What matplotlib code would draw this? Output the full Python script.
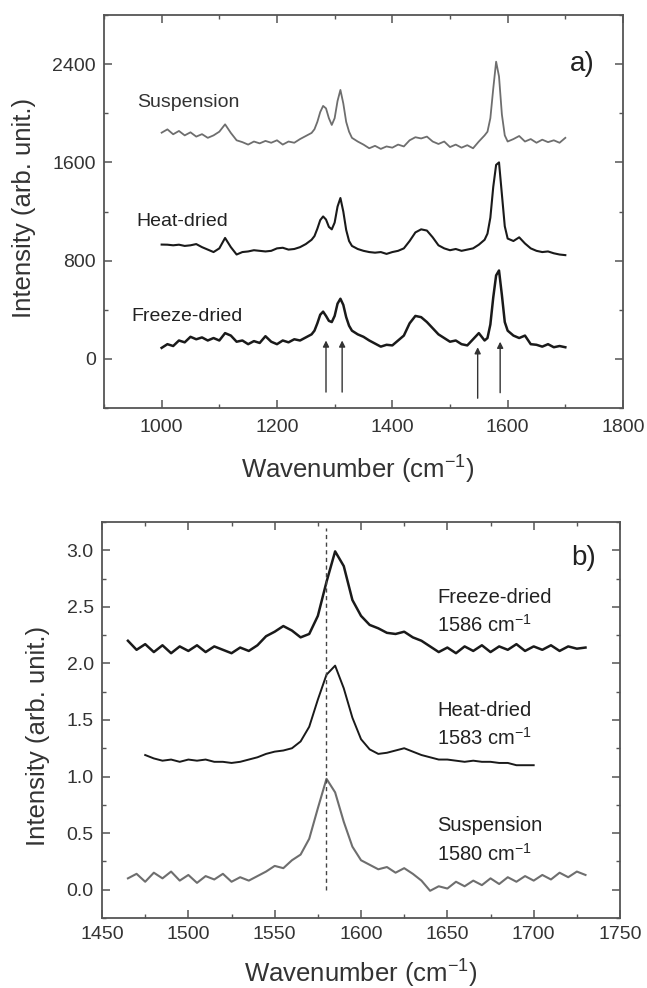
import numpy as np
import matplotlib
matplotlib.use("Agg")
import matplotlib.pyplot as plt
from matplotlib.ticker import MultipleLocator

plt.rcParams['font.family'] = ['Liberation Sans', 'DejaVu Sans']
plt.rcParams['mathtext.fontset'] = 'custom'
plt.rcParams['mathtext.rm'] = 'Liberation Sans'

# ---- panel a data (wavenumber, cm-1) ----
wn_a = [1000, 1010, 1020, 1030, 1040, 1050, 1060, 1070, 1080, 1090,
        1100, 1110, 1120, 1130, 1140, 1150, 1160, 1170, 1180, 1190,
        1200, 1210, 1220, 1230, 1240, 1250, 1260,
        1265, 1270, 1275, 1280, 1285, 1290, 1295, 1300, 1305, 1310,
        1315, 1320, 1325, 1330,
        1340, 1350, 1360, 1370, 1380, 1390, 1400, 1410, 1420, 1430,
        1440, 1450, 1460, 1470, 1480, 1490, 1500, 1510, 1520, 1530,
        1540, 1550, 1560,
        1565, 1570, 1575, 1580, 1585, 1590, 1595, 1600,
        1610, 1620, 1630, 1640, 1650, 1660, 1670, 1680, 1690, 1700]

susp_a = [1842, 1869, 1829, 1856, 1820, 1845, 1810, 1830, 1800, 1820,
          1850, 1910, 1840, 1780, 1765, 1745, 1770, 1755, 1775, 1760,
          1780, 1745, 1770, 1760, 1790, 1815, 1840,
          1870, 1930, 2010, 2060, 2040, 1960, 1905, 1960, 2100, 2190,
          2080, 1930, 1850, 1800,
          1770, 1745, 1715, 1735, 1710, 1730, 1720, 1745, 1730, 1780,
          1805, 1795, 1810, 1770, 1750, 1770, 1725, 1745, 1720, 1740,
          1715, 1770, 1820,
          1850, 1960, 2200, 2420, 2300, 1990, 1820, 1770,
          1790, 1815, 1770, 1790, 1760, 1785, 1765, 1780, 1760, 1800]

heat_a = [931, 930, 925, 930, 920, 925, 935, 910, 890, 870,
          900, 985, 910, 850, 870, 875, 885, 880, 875, 880,
          900, 905, 890, 895, 910, 935, 970,
          1000, 1060, 1130, 1160, 1135, 1075, 1055, 1110, 1240, 1310,
          1200, 1050, 960, 920,
          895, 880, 870, 865, 870, 855, 870, 880, 900, 960,
          1030, 1055, 1045, 990, 925, 900, 885, 895, 880, 890,
          900, 930, 970,
          1020, 1150, 1400, 1580, 1600, 1340, 1080, 980,
          960, 990, 940, 900, 880, 870, 875, 860, 850, 845]

freeze_a = [90, 120, 105, 150, 135, 180, 160, 175, 150, 170,
            150, 210, 190, 140, 150, 120, 145, 130, 185, 140,
            120, 150, 135, 160, 150, 175, 200,
            230, 290, 360, 385, 350, 310, 300, 350, 450, 490,
            440, 340, 270, 230,
            200, 180, 150, 125, 100, 115, 110, 150, 190, 290,
            350, 340, 300, 250, 200, 170, 140, 150, 120, 110,
            160, 210, 150,
            170, 280, 500, 680, 720, 520, 300, 230,
            190, 170, 190, 120, 115, 100, 120, 95, 105, 95]

arrow_x = [1285, 1313, 1548, 1587]
arrow_tail = [-270, -270, -320, -275]
arrow_head = [150, 150, 95, 140]

# ---- panel b data ----
wn_b = [1465, 1470, 1475, 1480, 1485, 1490, 1495, 1500, 1505, 1510,
        1515, 1520, 1525, 1530, 1535, 1540, 1545, 1550, 1555, 1560,
        1565, 1570, 1575, 1580, 1585, 1590, 1595, 1600, 1605, 1610,
        1615, 1620, 1625, 1630, 1635, 1640, 1645, 1650, 1655, 1660,
        1665, 1670, 1675, 1680, 1685, 1690, 1695, 1700, 1705, 1710,
        1715, 1720, 1725, 1730]

susp_b = [0.10, 0.14, 0.07, 0.15, 0.10, 0.16, 0.08, 0.13, 0.06, 0.12,
          0.09, 0.14, 0.07, 0.11, 0.08, 0.12, 0.16, 0.21, 0.19, 0.26,
          0.31, 0.45, 0.72, 0.98, 0.86, 0.60, 0.38, 0.26, 0.22, 0.18,
          0.20, 0.15, 0.19, 0.14, 0.08, -0.01, 0.03, 0.01, 0.07, 0.03,
          0.08, 0.04, 0.10, 0.05, 0.11, 0.07, 0.12, 0.08, 0.13, 0.09,
          0.15, 0.11, 0.16, 0.13]

freeze_b = [2.20, 2.12, 2.17, 2.10, 2.16, 2.09, 2.15, 2.11, 2.16, 2.10,
            2.15, 2.12, 2.09, 2.14, 2.11, 2.16, 2.24, 2.28, 2.33, 2.29,
            2.23, 2.26, 2.42, 2.72, 2.99, 2.86, 2.56, 2.42, 2.34, 2.31,
            2.27, 2.26, 2.28, 2.23, 2.20, 2.15, 2.10, 2.14, 2.09, 2.15,
            2.11, 2.16, 2.10, 2.15, 2.12, 2.17, 2.11, 2.15, 2.12, 2.16,
            2.11, 2.15, 2.13, 2.14]

wn_b_heat = [1475, 1480, 1485, 1490, 1495, 1500, 1505, 1510, 1515, 1520,
             1525, 1530, 1535, 1540, 1545, 1550, 1555, 1560, 1565, 1570,
             1575, 1580, 1585, 1590, 1595, 1600, 1605, 1610, 1615, 1620,
             1625, 1630, 1635, 1640, 1645, 1650, 1655, 1660, 1665, 1670,
             1675, 1680, 1685, 1690, 1695, 1700]

heat_b = [1.19, 1.16, 1.14, 1.15, 1.13, 1.15, 1.14, 1.15, 1.13, 1.13,
          1.12, 1.13, 1.15, 1.17, 1.20, 1.22, 1.23, 1.25, 1.31, 1.44,
          1.68, 1.90, 1.98, 1.78, 1.52, 1.33, 1.24, 1.20, 1.21, 1.23,
          1.25, 1.22, 1.19, 1.17, 1.15, 1.15, 1.14, 1.13, 1.14, 1.13,
          1.13, 1.12, 1.12, 1.10, 1.10, 1.10]

ref_peak = 1580

gray = "#6e6e6e"
dark = "#1a1a1a"
axc = "#555555"


def style_axes(ax):
    for s in ax.spines.values():
        s.set_color(axc)
        s.set_linewidth(1.3)
    ax.tick_params(which='both', direction='in', top=True, right=True,
                   color=axc, labelsize=14, labelcolor="#333333")
    ax.tick_params(axis='x', which='both', pad=8)
    ax.tick_params(axis='y', which='both', pad=6)
    ax.tick_params(which='major', length=6, width=1.1)
    ax.tick_params(which='minor', length=3, width=1.0)


fig = plt.figure(figsize=(6.47, 9.88), dpi=100)

# ---- panel a ----
ax1 = fig.add_axes([0.1607, 0.587, 0.8022, 0.3978])
ax1.plot(wn_a, susp_a, color=gray, lw=1.3)
ax1.plot(wn_a, heat_a, color=dark, lw=1.5)
ax1.plot(wn_a, freeze_a, color=dark, lw=1.8)
for x, t, h in zip(arrow_x, arrow_tail, arrow_head):
    ax1.annotate("", xy=(x, h), xytext=(x, t),
                 arrowprops=dict(arrowstyle='-|>', color="#333333", lw=1.0,
                                 mutation_scale=9, shrinkA=0, shrinkB=0))
ax1.set_xlim(900, 1800)
ax1.set_ylim(-400, 2800)
ax1.xaxis.set_major_locator(MultipleLocator(200))
ax1.xaxis.set_minor_locator(MultipleLocator(100))
ax1.yaxis.set_major_locator(MultipleLocator(800))
ax1.yaxis.set_minor_locator(MultipleLocator(400))
style_axes(ax1)
ax1.text(957, 2090, "Suspension", fontsize=14, color="#333333", va='center')
ax1.text(957, 1118, "Heat-dried", fontsize=14, color="#222222", va='center')
ax1.text(947, 343, "Freeze-dried", fontsize=14, color="#222222", va='center')
ax1.text(1708, 2400, "a)", fontsize=20, color="#222222", va='center')
ax1.set_xlabel("Wavenumber (cm$^{-1}$)", fontsize=18.5, color="#333333")
ax1.set_ylabel("Intensity (arb. unit.)", fontsize=18.5, color="#333333")
ax1.xaxis.label.set_va('center')
ax1.yaxis.label.set_va('center')
ax1.xaxis.set_label_coords(0.49, -0.155)
ax1.yaxis.set_label_coords(-0.155, 0.51)

# ---- panel b ----
ax2 = fig.add_axes([0.1577, 0.0709, 0.8006, 0.4008])
ax2.plot(wn_b, susp_b, color=gray, lw=1.5)
ax2.plot(wn_b_heat, heat_b, color=dark, lw=1.4)
ax2.plot(wn_b, freeze_b, color=dark, lw=1.8)
ax2.vlines(ref_peak, 0, 3.2, colors="#444444", linestyles=(0, (3, 2.5)), lw=1.0)
ax2.set_xlim(1450, 1750)
ax2.set_ylim(-0.25, 3.25)
ax2.xaxis.set_major_locator(MultipleLocator(50))
ax2.xaxis.set_minor_locator(MultipleLocator(25))
ax2.yaxis.set_major_locator(MultipleLocator(0.5))
ax2.yaxis.set_minor_locator(MultipleLocator(0.25))
style_axes(ax2)
ax2.tick_params(axis='x', which='both', pad=6)
ax2.text(1644, 2.58, "Freeze-dried", fontsize=14.5, color="#222222", va='center')
ax2.text(1644, 2.34, "1586 cm$^{-1}$", fontsize=14.5, color="#222222", va='center')
ax2.text(1644, 1.58, "Heat-dried", fontsize=14.5, color="#222222", va='center')
ax2.text(1644, 1.34, "1583 cm$^{-1}$", fontsize=14.5, color="#222222", va='center')
ax2.text(1644, 0.57, "Suspension", fontsize=14.5, color="#222222", va='center')
ax2.text(1644, 0.32, "1580 cm$^{-1}$", fontsize=14.5, color="#222222", va='center')
ax2.text(1722, 2.93, "b)", fontsize=20, color="#222222", va='center')
ax2.set_xlabel("Wavenumber (cm$^{-1}$)", fontsize=18.5, color="#333333")
ax2.set_ylabel("Intensity (arb. unit.)", fontsize=18.5, color="#333333")
ax2.xaxis.label.set_va('center')
ax2.yaxis.label.set_va('center')
ax2.xaxis.set_label_coords(0.5, -0.138)
ax2.yaxis.set_label_coords(-0.123, 0.46)

fig.savefig("out.png", dpi=100)
